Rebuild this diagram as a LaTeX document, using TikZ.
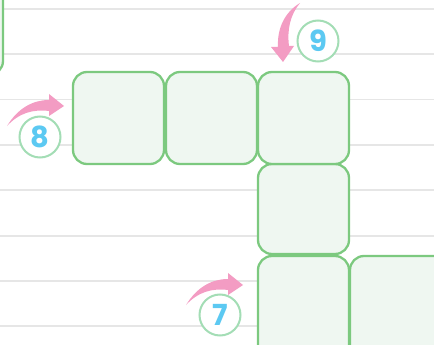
\documentclass[tikz,border=0pt]{standalone}
\usepackage{fontspec}
\newfontfamily\digitfont{Poppins}
\definecolor{boxline}{HTML}{7CC97F}
\definecolor{boxfill}{HTML}{EFF7F1}
\definecolor{rule}{HTML}{E6E6E6}
\definecolor{ringc}{HTML}{A3DDB5}
\definecolor{digitc}{HTML}{5CC9F2}
\definecolor{pinkc}{HTML}{F39CC3}
\tikzset{
  cell/.style={draw=boxline, fill=boxfill, line width=2.3pt, rounded corners=14pt},
  ring/.style={circle, draw=ringc, fill=white, line width=2pt, minimum size=41pt, inner sep=0pt,
    font=\digitfont\bfseries\fontsize{29}{29}\selectfont, text=digitc},
  ruleline/.style={draw=rule, line width=1.5pt},
  arrowfill/.style={fill=pinkc, draw=none}
}
\begin{document}
\begin{tikzpicture}[x=1pt,y=-1pt]
\useasboundingbox (0,0) rectangle (434,345);
\clip (0,0) rectangle (434,345);
% ruled lines
\foreach \yy in {9,54,99.5,145,190,236,281,326}
  \draw[ruleline] (0,\yy) -- (434,\yy);
% partial box top-left
\draw[cell] (-60,-60) rectangle (3,75);
% boxes
\draw[cell] (73,72) rectangle (164,164);
\draw[cell] (166,72) rectangle (257,164);
\draw[cell] (258,164) rectangle (349,254);
\draw[cell] (258,72) rectangle (349,164);
\draw[cell] (258,256) rectangle (349,370);
\draw[cell] (350,256) rectangle (460,370);
% circles
\node[ring] (n8) at (40,137) {8};
\node[ring] (n9) at (318,41) {9};
\node[ring] (n7) at (220,315) {7};
% arrows 8 and 7 (same shape)
\foreach \dx/\dy in {0/0,179/179}{
\begin{scope}[shift={(\dx,\dy)}]
\fill[arrowfill] (7,126) .. controls (18,108) and (33,100) .. (49,100)
  -- (49,94) -- (64,106) -- (49,116) -- (49,111)
  .. controls (33,109) and (19,113) .. (7,126) -- cycle;
\end{scope}}
% arrow 9
\fill[arrowfill] (300,3) .. controls (285,12) and (277,28) .. (278,47)
  -- (271,47) -- (283,62) -- (294,46) -- (289,46)
  .. controls (287,30) and (290,15) .. (300,3) -- cycle;
\end{tikzpicture}
\end{document}
